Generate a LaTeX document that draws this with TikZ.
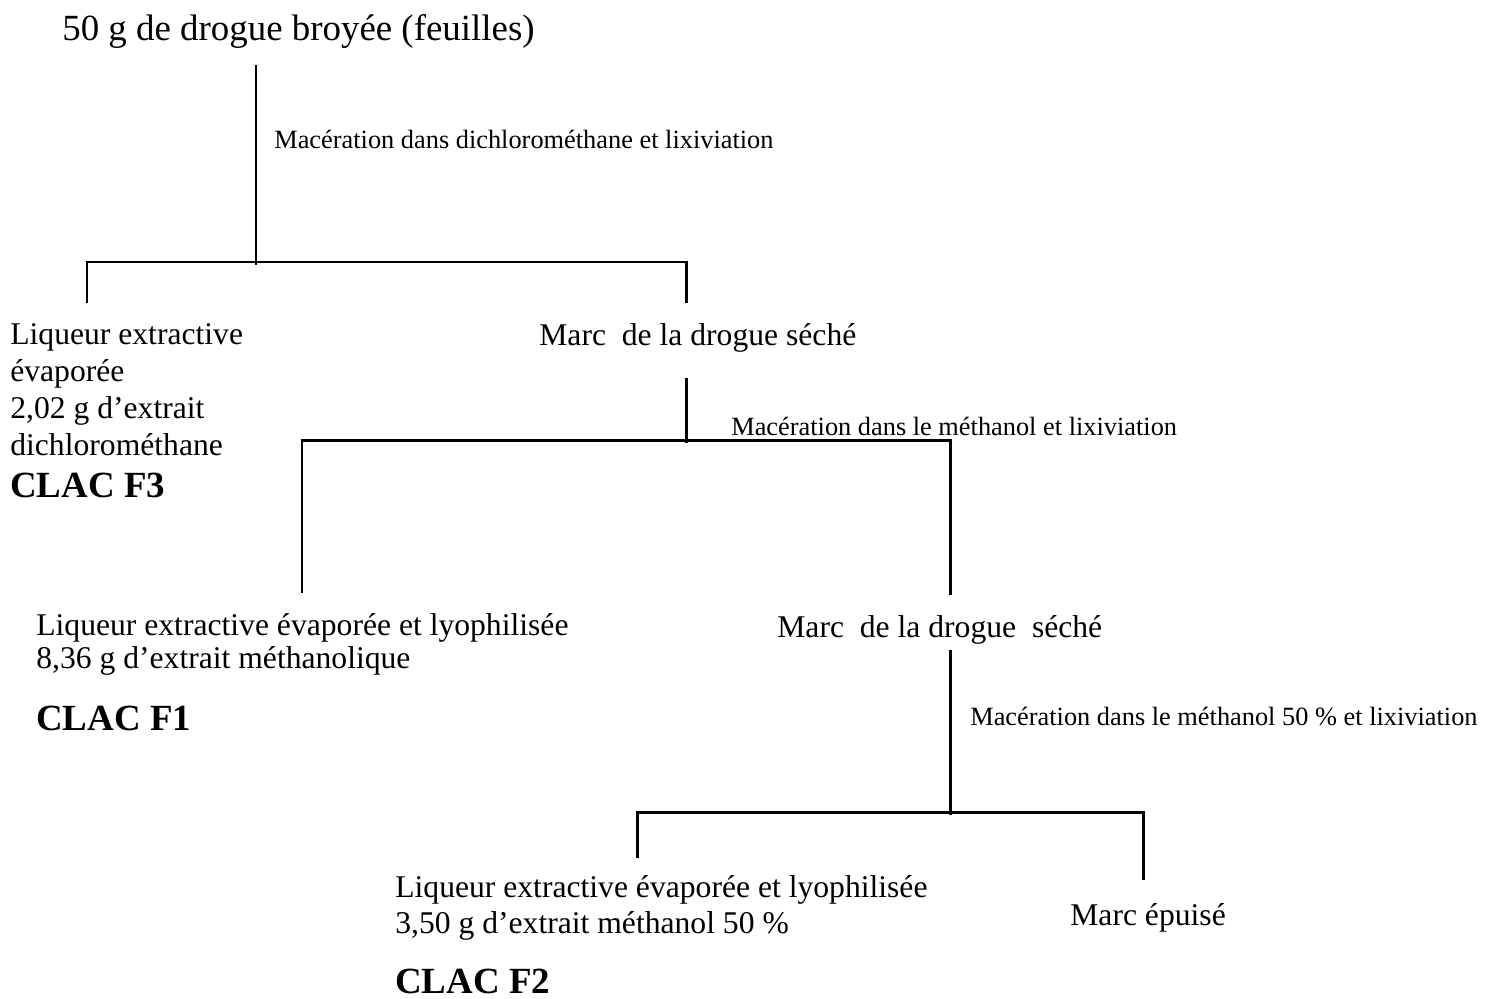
\documentclass[tikz,border=0pt]{standalone}
\usepackage{fontspec}
\setmainfont{Liberation Serif}
\usetikzlibrary{positioning}

\begin{document}
\begin{tikzpicture}[
    x=0.02cm, y=-0.02cm,
    every node/.style={inner sep=0pt, anchor=base west},
    txt/.style={font=\fontsize{18}{21}\selectfont, align=left},
    steplabel/.style={font=\fontsize{15}{18}\selectfont},
    clac/.style={font=\fontsize{21}{25}\selectfont\bfseries},
    branch/.style={line width=1.7pt}
]
    \useasboundingbox (0,0) rectangle (1498,998);

    \node[font=\fontsize{21}{25}\selectfont] (drug) at (62,40) {50 g de drogue broyée (feuilles)};

    % first maceration
    \coordinate (top1) at (256,65);
    \coordinate (legA) at (87,303);
    \coordinate (legB) at (686,303);
    \draw[branch] (top1) -- (256,265);
    \draw[branch] (legA) -- (87,262) -| (legB);
    \node[steplabel] (mac1) at (274,148) {Macération dans dichlorométhane et lixiviation};

    % base of a multi-line node = its last line
    \node[txt] (liq1) at (10,455) {Liqueur extractive\\évaporée\\2,02 g d’extrait\\dichlorométhane};
    \node[clac] (f3) at (10,497) {CLAC F3};
    \node[txt] (marc1) at (539,345) {Marc\ \ de la drogue séché};

    % second maceration
    \coordinate (top2) at (686,378);
    \coordinate (legC) at (302,593);
    \coordinate (legD) at (950,595);
    \draw[branch] (top2) -- (686,443);
    \draw[branch] (legC) -- (302,440) -| (legD);
    \node[steplabel] (mac2) at (731,435) {Macération dans le méthanol et lixiviation};

    \node[txt, font=\fontsize{18}{18.5}\selectfont] (liq2) at (36,668) {Liqueur extractive évaporée et lyophilisée\\8,36 g d’extrait méthanolique};
    \node[clac] (f1) at (36,730) {CLAC F1};
    \node[txt] (marc2) at (777,637) {Marc\ \ de la drogue\ \ séché};

    % third maceration
    \coordinate (top3) at (950,650);
    \coordinate (legE) at (637,858);
    \coordinate (legF) at (1143,880);
    \draw[branch] (top3) -- (950,815);
    \draw[branch] (legE) -- (637,812) -| (legF);
    \node[steplabel] (mac3) at (970,725) {Macération dans le méthanol 50 \% et lixiviation};

    \node[txt, font=\fontsize{18}{20}\selectfont] (liq3) at (395,933) {Liqueur extractive évaporée et lyophilisée\\3,50 g d’extrait méthanol 50 \%};
    \node[clac] (f2) at (395,993) {CLAC F2};
    \node[txt] (spent) at (1070,925) {Marc épuisé};
\end{tikzpicture}
\end{document}
